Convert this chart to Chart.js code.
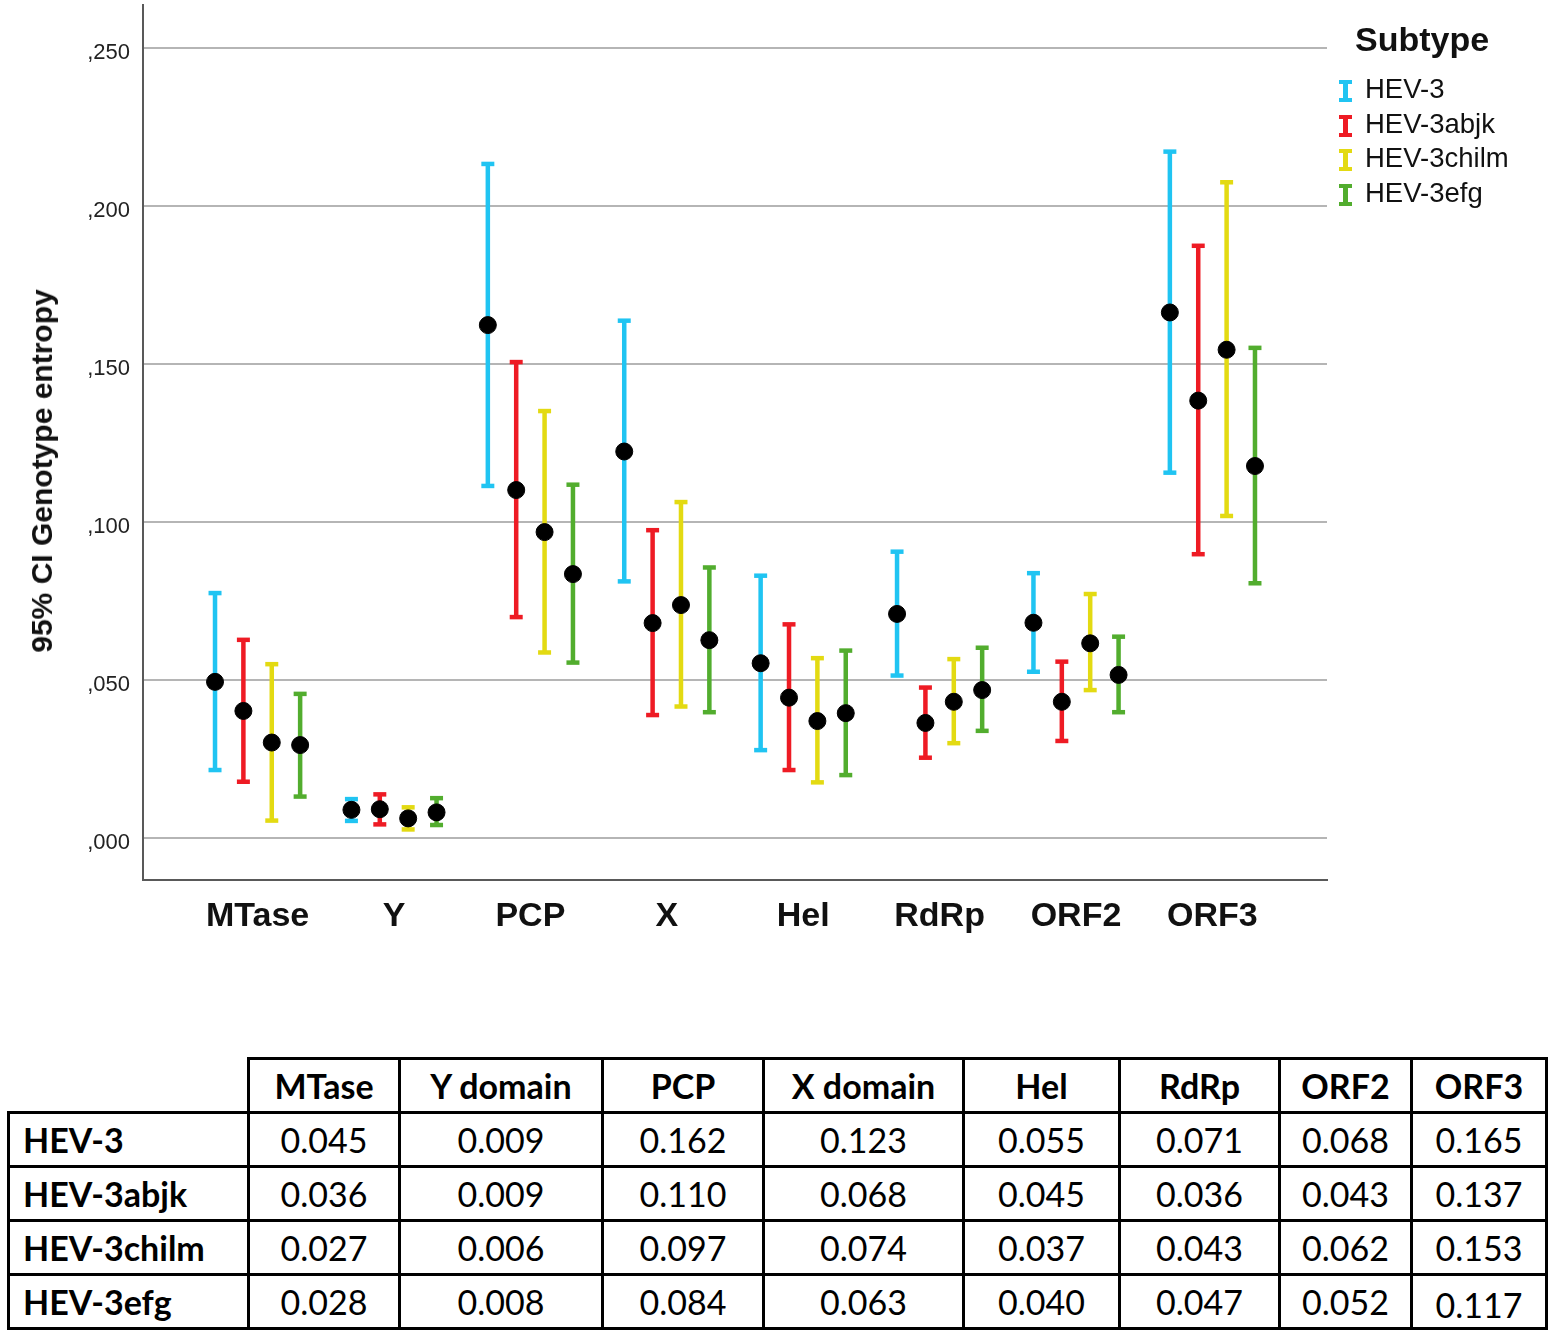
<!DOCTYPE html>
<html>
<head>
<meta charset="utf-8">
<script src="https://cdn.jsdelivr.net/npm/chart.js@4"></script>
<style>
  html, body { margin:0; padding:0; background:#fff; }
  body { width:1559px; height:1340px; position:relative; overflow:hidden; font-family:"Liberation Sans", Arial, sans-serif; }
  #chartBox { position:absolute; left:0; top:0; width:1559px; height:960px; }
  #ytitle { position:absolute; left:42px; top:471px; transform:translate(-50%,-50%) rotate(-90deg);
            font-weight:bold; font-size:30px; color:#111; white-space:nowrap; }
  #legend { position:absolute; left:1336px; top:22px; }
  #legend .ttl { position:absolute; left:19px; top:-2px; font-weight:bold; font-size:34px; color:#111; white-space:nowrap; }
  #legend .item { position:absolute; left:0; height:34px; white-space:nowrap; font-size:27.5px; color:#111; }
  #legend .icon { position:absolute; left:3px; top:5px; width:13px; height:22px; }
  #legend .icon .v { position:absolute; left:4px; top:0; width:5px; height:22px; }
  #legend .icon .c1, #legend .icon .c2 { position:absolute; left:0; width:13px; height:4px; }
  #legend .icon .c1 { top:0; } #legend .icon .c2 { bottom:0; }
  #legend .lbl { position:absolute; left:29px; top:-2px; line-height:32px; }
  table { position:absolute; left:7px; top:1057px; border-collapse:collapse; table-layout:fixed;
          font-family:Lato, "Open Sans", sans-serif; font-size:34px; color:#000; }
  td, th { border:3px solid #000; height:51px; padding:0; text-align:center; vertical-align:middle; }
  th { font-weight:bold; }
  td.name { text-align:left; padding-left:13px; font-weight:bold; }
  th.blank { border-top:none; border-left:none; }
</style>
</head>
<body>
<div id="chartBox"><canvas id="c"></canvas></div>
<div id="ytitle">95% CI Genotype entropy</div>
<div id="legend"></div>
<table id="tbl"></table>
<script>
// ---------- data ----------
const categories = ['MTase', 'Y', 'PCP', 'X', 'Hel', 'RdRp', 'ORF2', 'ORF3'];
const subtypes = ['HEV-3', 'HEV-3abjk', 'HEV-3chilm', 'HEV-3efg'];

const meanHEV3  = [0.0494, 0.0089, 0.1623, 0.1223, 0.0553, 0.0709, 0.0681, 0.1663];
const lowHEV3   = [0.0215, 0.0054, 0.1114, 0.0812, 0.0278, 0.0514, 0.0526, 0.1156];
const highHEV3  = [0.0775, 0.0123, 0.2133, 0.1637, 0.0830, 0.0906, 0.0838, 0.2172];

const meanAbjk  = [0.0402, 0.0091, 0.1101, 0.0680, 0.0444, 0.0364, 0.0431, 0.1384];
const lowAbjk   = [0.0178, 0.0043, 0.0699, 0.0389, 0.0215, 0.0254, 0.0307, 0.0898];
const highAbjk  = [0.0627, 0.0138, 0.1506, 0.0974, 0.0676, 0.0476, 0.0558, 0.1874];

const meanChilm = [0.0302, 0.0062, 0.0968, 0.0737, 0.0370, 0.0431, 0.0616, 0.1545];
const lowChilm  = [0.0055, 0.0027, 0.0587, 0.0416, 0.0176, 0.0300, 0.0468, 0.1019];
const highChilm = [0.0550, 0.0097, 0.1351, 0.1063, 0.0569, 0.0566, 0.0772, 0.2075];

const meanEfg   = [0.0294, 0.0081, 0.0835, 0.0626, 0.0395, 0.0468, 0.0516, 0.1177];
const lowEfg    = [0.0131, 0.0041, 0.0555, 0.0398, 0.0199, 0.0339, 0.0398, 0.0806];
const highEfg   = [0.0456, 0.0126, 0.1118, 0.0856, 0.0593, 0.0602, 0.0637, 0.1551];

const yTicks = [0, 0.05, 0.10, 0.15, 0.20, 0.25];

const tableHeaders = ['MTase', 'Y domain', 'PCP', 'X domain', 'Hel', 'RdRp', 'ORF2', 'ORF3'];
const tableHEV3  = ['0.045', '0.009', '0.162', '0.123', '0.055', '0.071', '0.068', '0.165'];
const tableAbjk  = ['0.036', '0.009', '0.110', '0.068', '0.045', '0.036', '0.043', '0.137'];
const tableChilm = ['0.027', '0.006', '0.097', '0.074', '0.037', '0.043', '0.062', '0.153'];
const tableEfg   = ['0.028', '0.008', '0.084', '0.063', '0.040', '0.047', '0.052', '0.117'];

// ---------- styles ----------
const colors = ['#20c4f2', '#ee1b24', '#e3da12', '#52ad2e'];
const offsets = [-0.312, -0.104, 0.104, 0.312];

const means = [meanHEV3, meanAbjk, meanChilm, meanEfg];
const lows = [lowHEV3, lowAbjk, lowChilm, lowEfg];
const highs = [highHEV3, highAbjk, highChilm, highEfg];

const datasets = [];
subtypes.forEach((s, k) => {
  const pts = [];
  categories.forEach((c, i) => {
    pts.push({x: i + offsets[k], y: lows[k][i]});
    pts.push({x: i + offsets[k], y: highs[k][i]});
    pts.push({x: i + offsets[k], y: null});
  });
  datasets.push({
    type: 'line', label: s, data: pts, spanGaps: false,
    borderColor: colors[k], borderWidth: 4.5, borderCapStyle: 'butt',
    pointStyle: 'line', pointRadius: 6.5, pointBorderWidth: 4.5,
    pointBorderColor: colors[k], pointBackgroundColor: colors[k],
    pointHoverRadius: 6.5, order: 2
  });
});
subtypes.forEach((s, k) => {
  datasets.push({
    type: 'scatter', label: s + ' mean',
    data: categories.map((c, i) => ({x: i + offsets[k], y: means[k][i]})),
    showLine: false, pointStyle: 'circle', pointRadius: 8.5,
    pointBackgroundColor: '#000', pointBorderColor: '#000', pointBorderWidth: 1,
    order: 1
  });
});

Chart.defaults.font.family = '"Liberation Sans", Arial, sans-serif';
Chart.defaults.animation = false;

new Chart(document.getElementById('c'), {
  type: 'line',
  data: { datasets },
  options: {
    responsive: true, maintainAspectRatio: false, animation: false,
    layout: { autoPadding: false, padding: { left: 0, right: 232, top: 5, bottom: 0 } },
    plugins: { legend: { display: false }, tooltip: { enabled: false } },
    scales: {
      x: {
        type: 'linear', min: -0.84, max: 7.84,
        afterBuildTicks: (sc) => { sc.ticks = categories.map((c, i) => ({value: i})); },
        afterFit: (sc) => { sc.height = 80; sc.paddingLeft = 0; sc.paddingRight = 0; },
        grid: { display: false, drawTicks: false },
        border: { display: true, color: '#595959', width: 2 },
        ticks: { padding: 16, color: '#111', font: { size: 34, weight: 'bold' },
                 callback: (v) => categories[v] !== undefined ? categories[v] : '', autoSkip: false, maxRotation: 0 }
      },
      y: {
        type: 'linear', min: -0.0133, max: 0.2636,
        afterBuildTicks: (sc) => { sc.ticks = yTicks.map(v => ({value: v})); },
        afterFit: (sc) => { sc.width = 143; sc.paddingTop = 0; sc.paddingBottom = 0; },
        grid: { color: '#b5b5b5', lineWidth: 2, drawTicks: false },
        border: { display: true, color: '#595959', width: 2 },
        ticks: { padding: 13, labelOffset: 5, color: '#222', font: { size: 22 },
                 callback: (v) => ',' + String(Math.round(v * 1000)).padStart(3, '0') }
      }
    }
  }
});

// ---------- legend ----------
const lg = document.getElementById('legend');
lg.innerHTML = '<div class="ttl">Subtype</div>';
subtypes.forEach((s, k) => {
  const it = document.createElement('div');
  it.className = 'item';
  it.style.top = (53 + k * 34.5) + 'px';
  it.innerHTML = '<div class="icon"><div class="v" style="background:' + colors[k] + '"></div>' +
    '<div class="c1" style="background:' + colors[k] + '"></div><div class="c2" style="background:' + colors[k] + '"></div></div>' +
    '<div class="lbl">' + s + '</div>';
  lg.appendChild(it);
});

// ---------- table ----------
const colWidths = [240, 151, 203, 161, 200, 156, 160, 132, 135];
const tbl = document.getElementById('tbl');
let html = '<colgroup>' + colWidths.map(w => '<col style="width:' + w + 'px">').join('') + '</colgroup>';
html += '<tr><th class="blank"></th>' + tableHeaders.map(h => '<th>' + h + '</th>').join('') + '</tr>';
const rows = [tableHEV3, tableAbjk, tableChilm, tableEfg];
rows.forEach((r, k) => {
  html += '<tr><td class="name">' + subtypes[k] + '</td>' +
    r.map((v, i) => '<td' + (k === 3 && i === 7 ? ' style="padding-top:6px;height:45px"' : '') + '>' + v + '</td>').join('') + '</tr>';
});
tbl.innerHTML = html;
</script>
</body>
</html>
